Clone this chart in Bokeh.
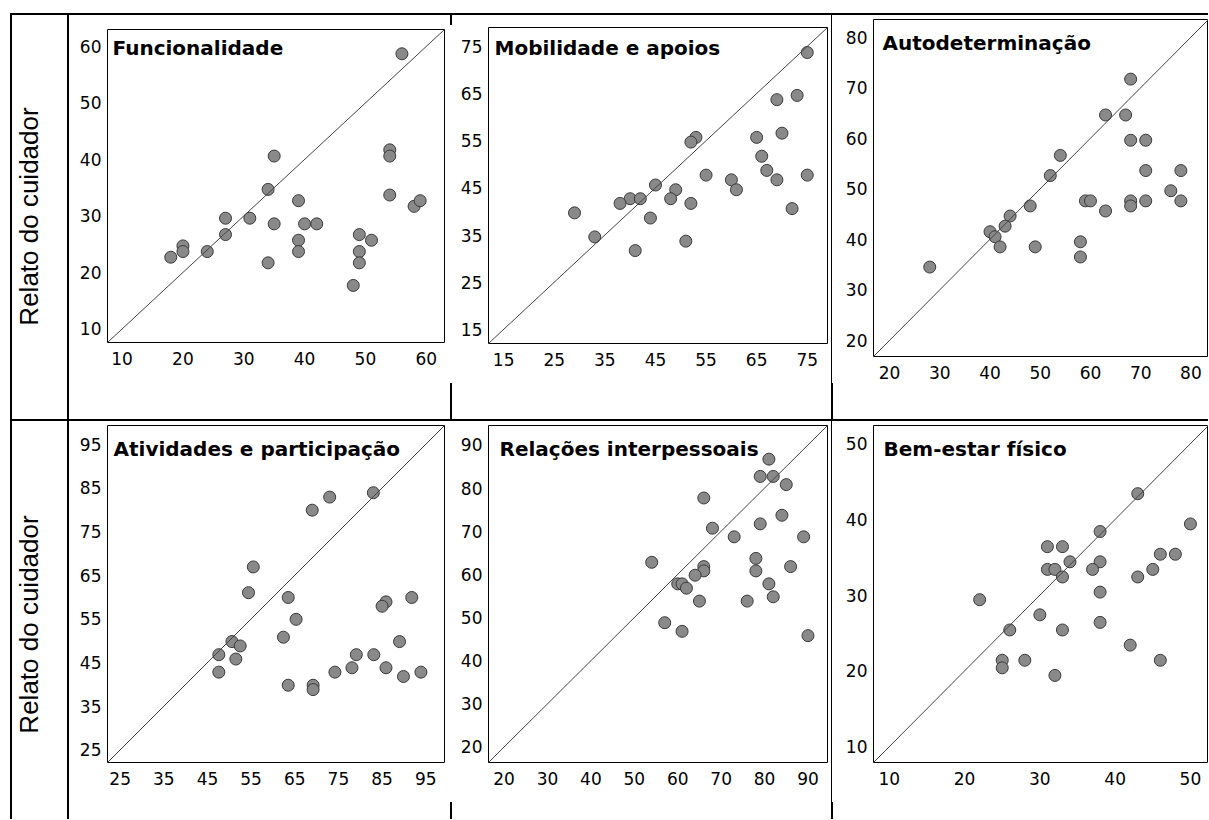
from math import pi
from bokeh.plotting import figure
from bokeh.layouts import row, column
from bokeh.models import Range1d, FixedTicker, Label, Slope, Spacer
from bokeh.embed import file_html
from bokeh.resources import INLINE

# ---------------- data ----------------
y_label = "Relato do cuidador"
titles = ["Funcionalidade", "Mobilidade e apoios", "Autodeterminação",
          "Atividades e participação", "Relações interpessoais", "Bem-estar físico"]

func_ticks = [10, 20, 30, 40, 50, 60]
func_x = [56, 35, 34, 39, 31, 27, 27, 35, 40, 42, 39, 39, 20, 20, 18, 24, 34, 48, 49, 49, 49, 51, 54, 54, 54, 58, 59]
func_y = [58.7, 40.6, 34.7, 32.7, 29.6, 29.6, 26.7, 28.6, 28.6, 28.6, 25.7, 23.7, 24.7, 23.7, 22.7, 23.7, 21.7, 17.7,
          26.7, 23.7, 21.7, 25.7, 41.7, 40.6, 33.7, 31.7, 32.7]

mob_ticks = [15, 25, 35, 45, 55, 65, 75]
mob_x = [75, 73, 69, 70, 65, 53, 52, 66, 67, 55, 75, 69, 60, 61, 45, 49, 48, 40, 42, 38, 52, 44, 29, 72, 33, 51, 41]
mob_y = [73.7, 64.6, 63.7, 56.6, 55.7, 55.7, 54.7, 51.7, 48.7, 47.7, 47.7, 46.7, 46.7, 44.6, 45.6, 44.6, 42.7, 42.7,
         42.7, 41.7, 41.7, 38.6, 39.7, 40.6, 34.6, 33.7, 31.7]

auto_ticks = [20, 30, 40, 50, 60, 70, 80]
auto_x = [68, 63, 67, 68, 71, 54, 52, 71, 78, 76, 48, 59, 60, 68, 68, 71, 78, 63, 44, 43, 40, 41, 42, 49, 58, 58, 28]
auto_y = [71.7, 64.6, 64.6, 59.6, 59.6, 56.6, 52.6, 53.6, 53.6, 49.6, 46.6, 47.6, 47.6, 47.6, 46.6, 47.6, 47.6, 45.6,
          44.6, 42.6, 41.5, 40.5, 38.5, 38.5, 39.5, 36.5, 34.5]

ativ_ticks = [25, 35, 45, 55, 65, 75, 85, 95]
ativ_x = [83, 73, 69, 55.5, 54.4, 63.5, 91.8, 85.9, 85, 65.3, 62.4, 50.6, 52.5, 89, 47.6, 79.1, 83.1, 51.5, 78.1, 85.9,
          47.6, 74.2, 93.9, 89.9, 63.5, 69.2, 69.2]
ativ_y = [83.9, 82.9, 79.9, 66.9, 61.0, 59.9, 59.9, 58.9, 57.9, 54.9, 50.8, 49.8, 48.8, 49.8, 46.8, 46.8, 46.8, 45.8,
          43.8, 43.8, 42.8, 42.8, 42.8, 41.8, 39.8, 39.8, 38.8]

rel_ticks = [20, 30, 40, 50, 60, 70, 80, 90]
rel_x = [81, 79, 82, 85, 66, 84, 79, 68, 73, 89, 54, 78, 66, 86, 66, 78, 64, 60, 61, 81, 62, 65, 76, 82, 57, 61, 90]
rel_y = [86.7, 82.7, 82.7, 80.8, 77.7, 73.7, 71.7, 70.7, 68.7, 68.7, 62.8, 63.7, 61.8, 61.8, 60.8, 60.8, 59.8, 57.8,
         57.8, 57.8, 56.8, 53.8, 53.8, 54.8, 48.8, 46.8, 45.8]

bem_ticks = [10, 20, 30, 40, 50]
bem_x = [43, 50, 38, 31, 33, 46, 48, 34, 38, 31, 32, 37, 45, 33, 43, 38, 22, 30, 38, 26, 33, 42, 25, 25, 28, 46, 32]
bem_y = [43.4, 39.4, 38.4, 36.4, 36.4, 35.4, 35.4, 34.4, 34.4, 33.4, 33.4, 33.4, 33.4, 32.4, 32.4, 30.4, 29.4, 27.4,
         26.4, 25.4, 25.4, 23.4, 21.4, 20.4, 21.4, 21.4, 19.4]

# axis ranges (same for x and y: identity line runs corner to corner)
ranges = [(7.6, 63.0), (12.0, 79.0), (16.8, 83.5), (22.1, 99.3), (16.4, 94.5), (7.9, 52.4)]

# ---------------- styling / layout ----------------
H1, H2 = 404, 398
FONT = "DejaVu Sans"
TOP_B, BOT_B = 4, 40


def black(w, h):
    return Spacer(width=w, height=h, styles={"background-color": "black"})


def white(w, h):
    return Spacer(width=w, height=h)


def panel(title, xs, ys, ticks, rng, width, frame_h, lr, toff):
    height = frame_h + TOP_B + BOT_B
    p = figure(width=width, height=height, x_range=Range1d(*rng), y_range=Range1d(*rng),
               toolbar_location=None, output_backend="svg",
               min_border_left=lr[0], min_border_right=lr[1],
               min_border_top=TOP_B, min_border_bottom=BOT_B)
    p.grid.visible = False
    p.outline_line_color = "black"
    p.outline_line_width = 1
    p.background_fill_color = "white"
    p.border_fill_color = "white"
    for ax in (p.xaxis[0], p.yaxis[0]):
        ax.ticker = FixedTicker(ticks=ticks)
        ax.axis_line_color = None
        ax.major_tick_line_color = None
        ax.minor_tick_line_color = None
        ax.major_tick_in = 0
        ax.major_tick_out = 0
        ax.major_label_text_font = FONT
        ax.major_label_text_font_size = "17px"
        ax.major_label_text_color = "black"
    p.xaxis[0].major_label_standoff = 9
    p.yaxis[0].major_label_standoff = 6
    p.add_layout(Slope(gradient=1, y_intercept=0, line_color="#444444", line_width=1))
    p.scatter(xs, ys, size=12, fill_color="#898989", line_color="#3a3a3a", line_width=1)
    p.add_layout(Label(x=toff[0], y=frame_h - toff[1], x_units="screen", y_units="screen",
                       text=title, text_font=FONT, text_font_style="bold",
                       text_font_size="20px", text_baseline="middle", text_align="left",
                       text_color="black"))
    return p


def cell(p, width, row_h, frame_top):
    above = frame_top - TOP_B
    below = row_h - above - p.height
    items = []
    if above > 0:
        items.append(white(width, above))
    items.append(p)
    if below > 0:
        items.append(white(width, below))
    return column(*items)


def label_fig(h, cy):
    p = figure(width=55, height=h, x_range=Range1d(0, 55), y_range=Range1d(0, h),
               toolbar_location=None, output_backend="svg", min_border=0,
               x_axis_location=None, y_axis_location=None)
    p.grid.visible = False
    p.outline_line_color = None
    p.add_layout(Label(x=16, y=h - cy, text=y_label, angle=pi / 2, text_align="center",
                       text_baseline="middle", text_font="Liberation Sans",
                       text_font_size="26px", text_color="black"))
    return p


p1 = panel(titles[0], func_x, func_y, func_ticks, ranges[0], 381, 313, (38, 6), (5, 18))
p2 = panel(titles[1], mob_x, mob_y, mob_ticks, ranges[1], 379, 316, (36, 4), (6, 20))
p3 = panel(titles[2], auto_x, auto_y, auto_ticks, ranges[2], 375, 337, (40, 0), (9, 23))
p4 = panel(titles[3], ativ_x, ativ_y, ativ_ticks, ranges[3], 381, 337, (38, 6), (6, 23))
p5 = panel(titles[4], rel_x, rel_y, rel_ticks, ranges[4], 379, 337, (36, 4), (11, 23))
p6 = panel(titles[5], bem_x, bem_y, bem_ticks, ranges[5], 375, 337, (40, 0), (10, 23))

row1 = row(white(10, H1), black(2, H1), label_fig(H1, 201), black(2, H1),
           cell(p1, 381, H1, 14),
           column(black(2, 10), white(2, 358), black(2, 36)),
           cell(p2, 379, H1, 12),
           row(black(1, H1), column(white(1, 368), black(1, 36))),
           cell(p3, 375, H1, 4))
row2 = row(white(10, H2), black(2, H2), label_fig(H2, 203), black(2, H2),
           cell(p4, 381, H2, 4),
           column(white(2, 381), black(2, H2 - 381)),
           cell(p5, 379, H2, 4),
           row(black(1, H2), column(white(1, 381), black(1, H2 - 381))),
           cell(p6, 375, H2, 4))

layout = column(white(1208, 13),
                row(white(10, 2), black(1198, 2)),
                row1,
                row(white(10, 2), black(1198, 2)),
                row2)

open("out.html", "w").write(file_html(layout, INLINE))
